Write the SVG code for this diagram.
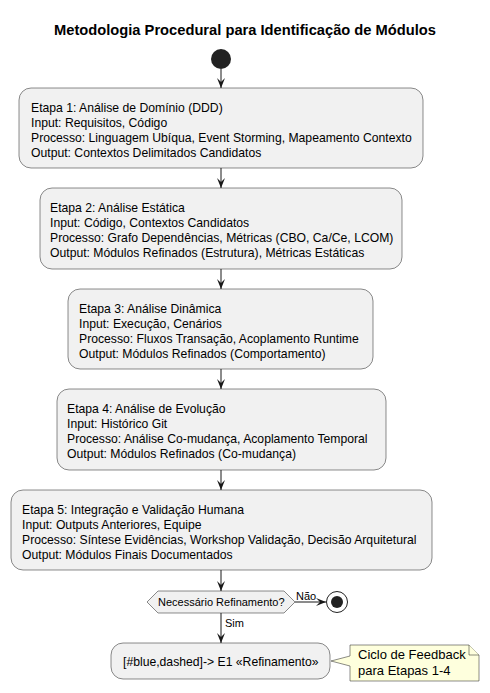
<svg xmlns="http://www.w3.org/2000/svg" width="490" height="693" viewBox="0 0 490 693">
<style>
text{font-family:"Liberation Sans",Arial,sans-serif;fill:#000}
.t{font-size:14.7px;font-weight:bold}
.b{font-size:12.2px}
.s{font-size:11px}
.n{font-size:13px}
.box{fill:#F1F1F1;stroke:#181818;stroke-width:0.5}
.ln{stroke:#181818;stroke-width:1;fill:none}
.note{fill:#FEFFDD;stroke:#181818;stroke-width:0.5}
</style>
<defs>
<marker id="ah" viewBox="0 0 10 10" refX="10" refY="5" markerWidth="10" markerHeight="10" markerUnits="userSpaceOnUse" orient="auto">
<polygon points="0,1 10,5 0,9 4,5" fill="#181818"/>
</marker>
</defs>
<text class="t" x="245" y="35" text-anchor="middle">Metodologia Procedural para Identificação de Módulos</text>
<g id="start"><circle cx="221" cy="59" r="10" fill="#222222"/></g>
<g id="connectors">
<line class="ln" x1="221" y1="69" x2="221" y2="88" marker-end="url(#ah)"/>
<line class="ln" x1="221" y1="168" x2="221" y2="188" marker-end="url(#ah)"/>
<line class="ln" x1="221" y1="269" x2="221" y2="289" marker-end="url(#ah)"/>
<line class="ln" x1="221" y1="369" x2="221" y2="389" marker-end="url(#ah)"/>
<line class="ln" x1="221" y1="470" x2="221" y2="490" marker-end="url(#ah)"/>
<line class="ln" x1="221" y1="570" x2="221" y2="591" marker-end="url(#ah)"/>
<line class="ln" x1="221" y1="613" x2="221" y2="643" marker-end="url(#ah)"/>
<line class="ln" x1="295" y1="602" x2="326" y2="602" marker-end="url(#ah)"/>
<text class="s" x="296" y="600">Não</text>
<text class="s" x="225" y="627">Sim</text>
</g>
<g id="etapa1">
<rect class="box" x="19" y="88" width="404" height="80" rx="12"/>
<text class="b" x="31" y="111.5">Etapa 1: Análise de Domínio (DDD)</text>
<text class="b" x="31" y="126.8">Input: Requisitos, Código</text>
<text class="b" x="31" y="142.1">Processo: Linguagem Ubíqua, Event Storming, Mapeamento Contexto</text>
<text class="b" x="31" y="157.4">Output: Contextos Delimitados Candidatos</text>
</g>
<g id="etapa2">
<rect class="box" x="40" y="188" width="362" height="81" rx="12"/>
<text class="b" x="50" y="211.5">Etapa 2: Análise Estática</text>
<text class="b" x="50" y="226.8">Input: Código, Contextos Candidatos</text>
<text class="b" x="50" y="242.1">Processo: Grafo Dependências, Métricas (CBO, Ca/Ce, LCOM)</text>
<text class="b" x="50" y="257.4">Output: Módulos Refinados (Estrutura), Métricas Estáticas</text>
</g>
<g id="etapa3">
<rect class="box" x="68" y="289" width="305" height="80" rx="12"/>
<text class="b" x="79" y="312.5">Etapa 3: Análise Dinâmica</text>
<text class="b" x="79" y="327.8">Input: Execução, Cenários</text>
<text class="b" x="79" y="343.1">Processo: Fluxos Transação, Acoplamento Runtime</text>
<text class="b" x="79" y="358.4">Output: Módulos Refinados (Comportamento)</text>
</g>
<g id="etapa4">
<rect class="box" x="57" y="389" width="329" height="81" rx="12"/>
<text class="b" x="67" y="412.5">Etapa 4: Análise de Evolução</text>
<text class="b" x="67" y="427.8">Input: Histórico Git</text>
<text class="b" x="67" y="443.1">Processo: Análise Co-mudança, Acoplamento Temporal</text>
<text class="b" x="67" y="458.4">Output: Módulos Refinados (Co-mudança)</text>
</g>
<g id="etapa5">
<rect class="box" x="11" y="490" width="421" height="80" rx="12"/>
<text class="b" x="22" y="513.5">Etapa 5: Integração e Validação Humana</text>
<text class="b" x="22" y="528.8">Input: Outputs Anteriores, Equipe</text>
<text class="b" x="22" y="544.1">Processo: Síntese Evidências, Workshop Validação, Decisão Arquitetural</text>
<text class="b" x="22" y="559.4">Output: Módulos Finais Documentados</text>
</g>
<g id="decisao">
<polygon class="box" points="147,602 158,591 284,591 295,602 284,613 158,613"/>
<text class="s" x="158" y="606">Necessário Refinamento?</text>
</g>
<g id="fim">
<circle cx="337" cy="602" r="10.5" fill="none" stroke="#222222" stroke-width="1"/>
<circle cx="337" cy="602" r="6" fill="#222222"/>
</g>
<g id="refinamento">
<rect class="box" x="111" y="643" width="219" height="36" rx="12"/>
<text class="b" x="123" y="665.5">[#blue,dashed]-&gt; E1 «Refinamento»</text>
</g>
<g id="nota">
<path class="note" d="M350,645 L469,645 L479,655 L479,681 L350,681 L350,666 L331,661 L350,656 Z"/>
<path class="note" d="M469,645 L469,655 L479,655"/>
<text class="n" x="358" y="659">Ciclo de Feedback</text>
<text class="n" x="358" y="675">para Etapas 1-4</text>
</g>
</svg>
